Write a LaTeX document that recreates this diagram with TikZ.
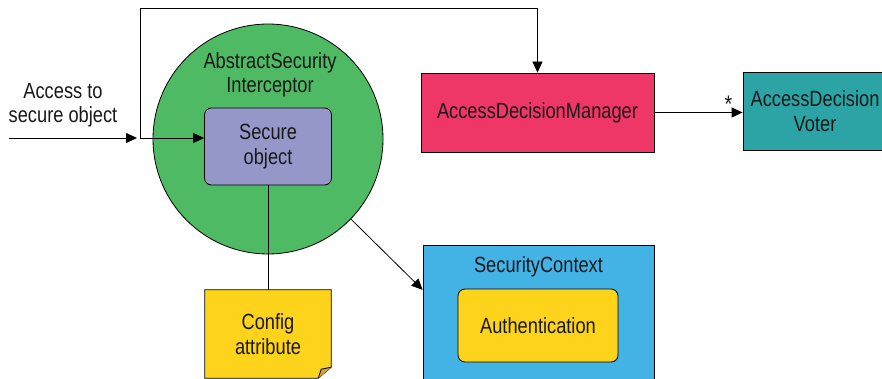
\documentclass[tikz,border=0pt]{standalone}
\usepackage{fontspec}
\setmainfont{Liberation Sans}[FakeStretch=0.83]
\usepackage{tikz}
\usetikzlibrary{arrows.meta,positioning,calc}

\definecolor{intgreen}{HTML}{4FBA64}
\definecolor{objpurple}{HTML}{9597C9}
\definecolor{admred}{HTML}{EE3667}
\definecolor{voterteal}{HTML}{2CA3A4}
\definecolor{ctxblue}{HTML}{43B3E6}
\definecolor{noteyellow}{HTML}{FDD31C}
\definecolor{foldorange}{HTML}{D9A043}

\begin{document}
\begin{tikzpicture}[
  x=1pt, y=-1pt,
  >={Triangle[length=11pt,width=10pt]},
  every node/.style={font=\fontsize{22}{24.5}\selectfont, align=center, text=black!90},
  box/.style={draw, thick, minimum width=#1, inner sep=0pt},
  rbox/.style={box=#1, rounded corners=7pt},
  conn/.style={thick}
]
\useasboundingbox (0,0) rectangle (882,379);

% interceptor and what it holds
\node[circle, draw, thick, fill=intgreen, minimum size=230pt] (interceptor) at (268,139) {};
\node (intlabel) at (270,75) {AbstractSecurity\\Interceptor};
\node[rbox=127pt, minimum height=77pt, fill=objpurple] (secobj) at (268,146.5) {Secure\\object};
\node (access) at (63,105) {Access to\\secure object};

% decision side
\node[box=233pt, minimum height=79pt, fill=admred] (adm) at (537.5,112.5) {AccessDecisionManager};
\node[box=144pt, minimum height=78pt, fill=voterteal] (voter) at (815,111) {AccessDecision\\Voter};

% context
\node[box=231pt, minimum height=140pt, fill=ctxblue] (ctx) at (538.5,315) {};
\node (ctxlabel) at (538.5,267) {SecurityContext};
\node[rbox=160pt, minimum height=73pt, fill=noteyellow] (auth) at (538,325.5) {Authentication};

% config note with folded corner
\node[minimum width=126pt, minimum height=88pt, inner sep=0pt] (config) at (268,334) {};
\filldraw[thick, fill=noteyellow] (config.north west) -- (config.north east)
  -- ($(config.south east)+(0,-11)$) -- ($(config.south east)+(-13,0)$) -- (config.south west) -- cycle;
\filldraw[thick, fill=foldorange] ($(config.south east)+(0,-11)$) -- ($(config.south east)+(-10,-9)$)
  -- ($(config.south east)+(-13,0)$);
\node at (config) {Config\\attribute};

\coordinate (in) at (9,138);
\coordinate (split) at (140,138);
\coordinate (top) at (537.5,8);

\draw[conn, ->] (in) -- ([xshift=-3pt]split);
\draw[conn, ->] (split) -- (split -| secobj.west);
\draw[conn, ->] (split) |- (top) -- (adm.north);
\draw[conn, ->] (adm.east) -- (adm.east -| voter.west)
  node[pos=0.84, above, font=\fontsize{24}{24}\selectfont, inner sep=0pt] {*};
\draw[conn] (secobj.south) -- (config.north);
\draw[conn, ->] (interceptor.-44) -- (ctx.west |- config.north);
\end{tikzpicture}
\end{document}
